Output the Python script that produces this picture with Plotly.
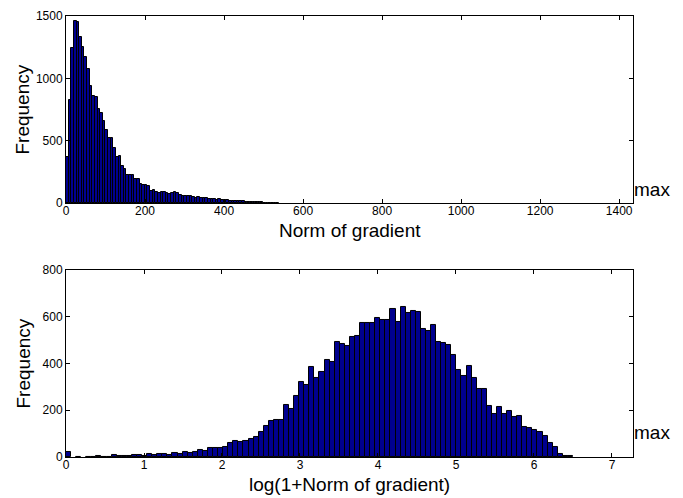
import numpy as np
import plotly.graph_objects as go

# ---------------- data ----------------
norm_max = 1435.0          # "max" marker / axis limit (norm of gradient)
norm_data_max = 665.0      # histogram range upper bound (norm)
log_data_max = 6.5         # histogram range upper bound (log)

norm_counts = [
    373, 823, 1241, 1461, 1450, 1334, 1249, 1170, 1074, 942,
    860, 852, 751, 720, 654, 587, 519, 519, 445, 368,
    376, 294, 275, 222, 222, 228, 196, 190, 151, 148,
    148, 140, 100, 108, 90, 82, 87, 87, 82, 74,
    77, 85, 77, 62, 58, 58, 53, 56, 47, 42,
    45, 40, 37, 37, 36, 32, 33, 26, 29, 24,
    26, 21, 18, 18, 17, 16, 15, 13, 10, 10,
    8, 8, 5, 9, 7, 3, 3, 2, 2, 2,
    1, 0, 0, 0, 0, 0, 0, 0, 0, 0,
    0, 0, 0, 0, 0, 0, 0, 0, 0, 0,
]

log_counts = [
    20, 0, 1, 0, 1, 1, 3, 1, 1, 8,
    3, 3, 3, 10, 7, 6, 11, 8, 13, 13,
    8, 16, 11, 21, 17, 21, 31, 27, 38, 38,
    38, 45, 60, 67, 65, 67, 79, 85, 108, 132,
    155, 160, 158, 224, 205, 261, 322, 309, 387, 337,
    364, 413, 408, 492, 485, 474, 512, 519, 574, 574,
    574, 593, 587, 587, 632, 577, 642, 618, 624, 621,
    546, 539, 563, 494, 488, 481, 435, 372, 347, 388,
    340, 292, 289, 217, 186, 213, 186, 198, 172, 174,
    128, 123, 117, 106, 89, 61, 42, 14, 6, 3,
]

top_xticks = [0, 200, 400, 600, 800, 1000, 1200, 1400]
top_yticks = [0, 500, 1000, 1500]
bot_xticks = [0, 1, 2, 3, 4, 5, 6, 7]
bot_yticks = [0, 200, 400, 600, 800]

top_xlabel = "Norm of gradient"
bot_xlabel = "log(1+Norm of gradient)"
ylabel = "Frequency"
max_label = "max"

# ---------------- figure ----------------
FONT = "Liberation Sans, Arial, Helvetica, sans-serif"
FACE = "rgb(0,0,143)"

def centers(n, hi):
    edges = np.linspace(0, hi, n + 1)
    return (edges[:-1] + edges[1:]) / 2, hi / n

def nz(vals):
    # empty bins are not drawn (no outline)
    return [v if v > 0 else None for v in vals]

xc_top, w_top = centers(len(norm_counts), norm_data_max)
xc_bot, w_bot = centers(len(log_counts), log_data_max)

fig = go.Figure()
fig.add_trace(go.Bar(x=xc_top, y=nz(norm_counts), width=w_top,
                     marker=dict(color=FACE, line=dict(color="black", width=1)),
                     xaxis="x", yaxis="y", showlegend=False))
fig.add_trace(go.Bar(x=xc_bot, y=nz(log_counts), width=w_bot,
                     marker=dict(color=FACE, line=dict(color="black", width=1)),
                     xaxis="x2", yaxis="y2", showlegend=False))

W, H = 683, 498
L, R, T, B = 66, 50, 9, 41
ph = H - T - B  # 448
top_dom = [1 - (199 - T) / ph, 1.0]
bot_dom = [0.0, 1 - (267 - T) / ph]

ax_common = dict(showline=True, linecolor="black", linewidth=1, mirror="ticks",
                 ticks="inside", ticklen=4, tickcolor="black", tickwidth=1,
                 showgrid=False, zeroline=False,
                 tickfont=dict(family=FONT, size=12, color="black"))

fig.update_layout(
    width=W, height=H,
    margin=dict(l=L, r=R, t=T, b=B),
    paper_bgcolor="white", plot_bgcolor="white",
    bargap=0,
    font=dict(family=FONT, color="black"),
    xaxis=dict(domain=[0, 1], range=[0, norm_max], tickvals=top_xticks, anchor="y",
               ticklabelstandoff=-3, **ax_common),
    yaxis=dict(domain=top_dom, range=[0, 1500], tickvals=top_yticks, anchor="x", **ax_common),
    xaxis2=dict(domain=[0, 1], range=[0, np.log(1 + norm_max)], tickvals=bot_xticks, anchor="y2",
                ticklabelstandoff=-3, **ax_common),
    yaxis2=dict(domain=bot_dom, range=[0, 800], tickvals=bot_yticks, anchor="x2", **ax_common),
)

def py(pix):
    return (H - B - pix) / ph

def px(pix):
    return (pix - L) / (W - L - R)

ann = dict(xref="paper", yref="paper", showarrow=False,
           font=dict(family=FONT, size=19, color="black"))
fig.add_annotation(text=top_xlabel, x=0.5, y=py(227), xanchor="center", yanchor="middle", **ann)
fig.add_annotation(text=bot_xlabel, x=0.5, y=py(485), xanchor="center", yanchor="middle", **ann)
fig.add_annotation(text=ylabel, x=px(23), y=py(104), xanchor="center", yanchor="middle", textangle=-90, **ann)
fig.add_annotation(text=ylabel, x=px(23), y=py(362), xanchor="center", yanchor="middle", textangle=-90, **ann)
fig.add_annotation(text=max_label, x=px(632), y=py(185), xanchor="left", yanchor="middle", **ann)
fig.add_annotation(text=max_label, x=px(632), y=py(432), xanchor="left", yanchor="middle", **ann)

fig.write_html("out.html")
